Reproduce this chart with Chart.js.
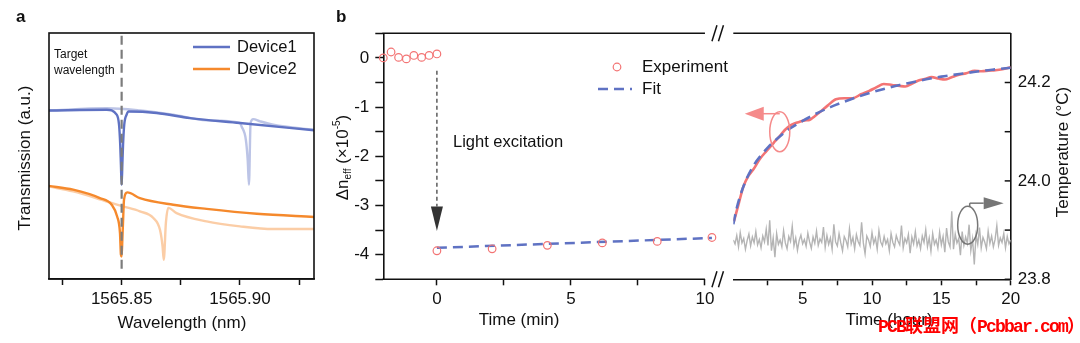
<!DOCTYPE html>
<html lang="en">
<head>
<meta charset="UTF-8">
<title>Transmission spectra and photo-induced index change</title>
<script src="https://cdn.jsdelivr.net/npm/chart.js@4.4.1/dist/chart.umd.min.js"></script>
<style>
  html, body { margin: 0; padding: 0; background: #fff; }
  #wrap { position: relative; width: 1080px; height: 343px; overflow: hidden; }
  #wrap canvas { position: absolute; top: 0; }
  #mark { position: absolute; left: 878px; top: 318px; color: #f00; white-space: nowrap;
          font: bold 18px/18px "Liberation Mono", "Noto Sans CJK SC", monospace; }
  #mark .l { letter-spacing: -1.8px; }
</style>
</head>
<body>
<div id="wrap">
  <canvas id="specChart" width="330" height="343" style="left:0px"></canvas>
  <canvas id="minChart" width="410" height="343" style="left:330px"></canvas>
  <canvas id="hourChart" width="360" height="343" style="left:720px"></canvas>
  <div id="mark"><span class="l">PCB</span>联盟网（<span class="l">Pcbbar.com</span>）</div>
</div>
<script>
// ---------- panel a: transmission spectra ----------
const targetWavelength = 1565.85;
const dev1Wl = [1565.819, 1565.8437, 1565.8479, 1565.8489, 1565.8494, 1565.8497, 1565.85, 1565.8503, 1565.8506, 1565.8511, 1565.8521, 1565.853, 1565.8648, 1565.8789, 1565.90, 1565.9317];
const dev1T  = [0.685, 0.688, 0.668, 0.627, 0.546, 0.465, 0.383, 0.465, 0.546, 0.627, 0.668, 0.681, 0.675, 0.654, 0.634, 0.604];
const dev1ShiftWl = [1565.819, 1565.8437, 1565.8577, 1565.8718, 1565.8859, 1565.90, 1565.9007, 1565.9025, 1565.9033, 1565.9038, 1565.9045, 1565.9056, 1565.9085, 1565.9141, 1565.9317];
const dev1ShiftT  = [0.685, 0.694, 0.685, 0.668, 0.645, 0.634, 0.620, 0.566, 0.480, 0.383, 0.634, 0.650, 0.641, 0.627, 0.606];
const dev2Wl = [1565.819, 1565.8295, 1565.8408, 1565.8458, 1565.8481, 1565.8493, 1565.8497, 1565.85, 1565.8503, 1565.8507, 1565.851, 1565.8524, 1565.8577, 1565.8718, 1565.8859, 1565.9071, 1565.9317];
const dev2T  = [0.379, 0.363, 0.329, 0.302, 0.254, 0.187, 0.099, 0.091, 0.160, 0.260, 0.322, 0.352, 0.329, 0.302, 0.285, 0.265, 0.252];
const dev2ShiftWl = [1565.819, 1565.8295, 1565.8437, 1565.8507, 1565.8577, 1565.8634, 1565.8662, 1565.8673, 1565.8678, 1565.8687, 1565.8697, 1565.8732, 1565.8859, 1565.90, 1565.9141, 1565.9317];
const dev2ShiftT  = [0.376, 0.356, 0.315, 0.295, 0.275, 0.248, 0.200, 0.133, 0.078, 0.228, 0.289, 0.268, 0.234, 0.214, 0.203, 0.203];
const wlTicks = [1565.825, 1565.85, 1565.875, 1565.90, 1565.925];
const wlTickLabels = ['', '1565.85', '', '1565.90', ''];

// ---------- panel b: index change ----------
const minTicks = [0, 2.5, 5, 7.5, 10];
const minTickLabels = ['0', '', '5', '', '10'];
const minAxisEnd = 10;
const hourTicks = [2.5, 5, 7.5, 10, 12.5, 15, 17.5, 20];
const hourTickLabels = ['', '5', '', '10', '', '15', '', '20'];
const neffTicks = [-4.5, -4, -3.5, -3, -2.5, -2, -1.5, -1, -0.5, 0, 0.5];
const neffTickLabels = ['', '-4', '', '-3', '', '-2', '', '-1', '', '0', ''];
const tempTicks = [23.8, 23.9, 24.0, 24.1, 24.2];
const tempTickLabels = ['23.8', '', '24.0', '', '24.2'];

// before and after excitation (minutes)
const preTime = [-2, -1.71, -1.43, -1.14, -0.86, -0.57, -0.29, 0];
const preNeff = [0, 0.12, 0.01, -0.02, 0.05, 0.01, 0.05, 0.08];
const postTime = [0, 2.06, 4.12, 6.17, 8.22, 10.26];
const postNeff = [-3.92, -3.88, -3.81, -3.76, -3.73, -3.65];
const fitMinTime = [0, 10.26];
const fitMinNeff = [-3.86, -3.66];

// recovery (hours)
const hourTime = [0.05, 0.4, 0.72, 1.05, 1.44, 1.9, 2.4, 2.9, 3.35, 3.7, 4.07, 4.45, 4.79, 5.15, 5.5, 5.85, 6.2, 6.8, 7.4, 8.0, 8.6, 9.2, 9.8, 10.3, 10.85, 11.45, 12.0, 12.4, 12.9, 13.35, 13.8, 14.3, 14.8, 15.26, 15.7, 16.2, 16.8, 17.4, 17.9, 18.4, 18.9, 19.4, 20.0];
const hourNeff = [-3.32, -2.95, -2.62, -2.42, -2.27, -2.06, -1.89, -1.73, -1.59, -1.47, -1.38, -1.33, -1.30, -1.27, -1.26, -1.19, -1.11, -0.97, -0.84, -0.82, -0.82, -0.74, -0.67, -0.60, -0.53, -0.55, -0.57, -0.58, -0.52, -0.46, -0.43, -0.39, -0.42, -0.44, -0.40, -0.35, -0.31, -0.26, -0.27, -0.26, -0.25, -0.23, -0.19];
const fitHourTime = [0, 0.25, 0.5, 0.75, 1, 1.5, 2, 2.5, 3, 3.5, 4, 5, 6, 7, 8, 9, 10, 11, 12, 13, 14, 15, 16, 17, 18, 19, 20];
const fitHourNeff = [-3.38, -3.05, -2.80, -2.60, -2.43, -2.17, -1.98, -1.82, -1.68, -1.56, -1.45, -1.28, -1.13, -1.00, -0.89, -0.79, -0.70, -0.62, -0.55, -0.49, -0.43, -0.38, -0.34, -0.30, -0.26, -0.23, -0.20];

// chip temperature, logged every 7.5 min
const tempStep = 0.125;
const temperature = [
  23.880, 23.872, 23.889, 23.866, 23.895, 23.874, 23.883, 23.861, 23.879, 23.892, 23.868, 23.886, 23.874, 23.897, 23.870, 23.881, 23.864, 23.888, 23.876, 23.902,
  23.869, 23.920, 23.858, 23.884, 23.845, 23.893, 23.871, 23.880, 23.866, 23.899, 23.874, 23.862, 23.887, 23.877, 23.908, 23.868, 23.884, 23.859, 23.879, 23.890,
  23.872, 23.881, 23.867, 23.894, 23.876, 23.863, 23.886, 23.873, 23.898, 23.869, 23.882, 23.875, 23.906, 23.865, 23.889, 23.871, 23.884, 23.861, 23.912, 23.876,
  23.868, 23.893, 23.874, 23.858, 23.887, 23.879, 23.866, 23.903, 23.872, 23.885, 23.862, 23.891, 23.877, 23.869, 23.916, 23.874, 23.852, 23.888, 23.880, 23.867,
  23.895, 23.873, 23.884, 23.861, 23.899, 23.876, 23.868, 23.887, 23.872, 23.881, 23.858, 23.893, 23.875, 23.866, 23.889, 23.878, 23.870, 23.909, 23.864, 23.883,
  23.874, 23.891, 23.853, 23.886, 23.872, 23.897, 23.868, 23.880, 23.862, 23.888, 23.875, 23.901, 23.866, 23.884, 23.857, 23.893, 23.871, 23.880, 23.863, 23.896,
  23.870, 23.887, 23.855, 23.904, 23.876, 23.866, 23.938, 23.861, 23.892, 23.874, 23.883, 23.849, 23.897, 23.869, 23.886, 23.873, 23.911, 23.858, 23.882, 23.830,
  23.890, 23.871, 23.905, 23.864, 23.885, 23.876, 23.862, 23.898, 23.873, 23.888, 23.866, 23.881, 23.909, 23.869, 23.884, 23.875, 23.893, 23.864, 23.887, 23.872, 23.880
];

const BLUE = '#5f72c3';
const BLUE_LIGHT = 'rgba(95,114,195,0.42)';
const ORANGE = '#f5892c';
const ORANGE_LIGHT = 'rgba(245,137,44,0.42)';
const RED = '#f37474';
const FONT = '"Liberation Sans", Arial, sans-serif';

Chart.defaults.font.family = FONT;
Chart.defaults.font.size = 17;
Chart.defaults.color = '#111';
Chart.defaults.animation = false;
Chart.defaults.plugins.legend.display = false;
Chart.defaults.plugins.tooltip.enabled = false;

function pts(xs, ys) { return xs.map((x, i) => ({ x: x, y: ys[i] })); }
function fixSize(px) { return s => { if (s.isHorizontal()) s.height = px; else s.width = px; }; }
function useTicks(values) { return s => { s.ticks = values.map(v => ({ value: v })); }; }
function labelsFrom(list) { return (v, i) => list[i]; }

function line(ctx, x1, y1, x2, y2) { ctx.beginPath(); ctx.moveTo(x1, y1); ctx.lineTo(x2, y2); ctx.stroke(); }
function label(ctx, str, x, y, size, align, bold) {
  ctx.font = (bold ? 'bold ' : '') + size + 'px ' + FONT;
  ctx.textAlign = align || 'left';
  ctx.textBaseline = 'middle';
  ctx.fillText(str, x, y);
}
function vlabel(ctx, str, x, y, size) {
  ctx.save(); ctx.translate(x, y); ctx.rotate(-Math.PI / 2);
  label(ctx, str, 0, 0, size, 'center'); ctx.restore();
}
function slashes(ctx, x, y) {
  line(ctx, x, y + 8, x + 5, y - 8);
  line(ctx, x + 6.5, y + 8, x + 11.5, y - 8);
}
function arrowHead(ctx, tipX, tipY, dirX, dirY, len, half) {
  const bx = tipX - dirX * len, by = tipY - dirY * len;
  ctx.beginPath(); ctx.moveTo(tipX, tipY);
  ctx.lineTo(bx - dirY * half, by + dirX * half);
  ctx.lineTo(bx + dirY * half, by - dirX * half);
  ctx.closePath(); ctx.fill();
}

const bottomGrid = { display: true, drawOnChartArea: false, drawTicks: true, tickLength: 6, tickColor: '#111', tickWidth: 1.5 };
const axisBorder = { display: true, color: '#111', width: 1.6 };

// ---------- chart a ----------
const specDeco = {
  id: 'specDeco',
  afterDraw(chart) {
    const { ctx, chartArea: a } = chart;
    ctx.save();
    ctx.strokeStyle = '#111'; ctx.lineWidth = 1.6;
    ctx.strokeRect(a.left, a.top, a.right - a.left, a.bottom - a.top);
    ctx.fillStyle = '#111';
    label(ctx, 'a', 16, 17, 17, 'left', true);
    label(ctx, 'Target', 54, 55, 12);
    label(ctx, 'wavelength', 54, 71, 12);
    ctx.lineWidth = 2.5;
    ctx.strokeStyle = BLUE; line(ctx, 193, 47, 230, 47);
    ctx.strokeStyle = ORANGE; line(ctx, 193, 69, 230, 69);
    label(ctx, 'Device1', 237, 47, 16.5);
    label(ctx, 'Device2', 237, 69, 16.5);
    label(ctx, 'Wavelength (nm)', 182, 323, 17, 'center');
    vlabel(ctx, 'Transmission (a.u.)', 25, 158, 17);
    ctx.restore();
  }
};

const specLine = (data, color, order) => ({
  data: data, showLine: true, pointRadius: 0, borderColor: color, borderWidth: 2.4,
  cubicInterpolationMode: 'monotone', order: order
});

new Chart(document.getElementById('specChart'), {
  type: 'scatter',
  data: {
    datasets: [
      { data: [{ x: targetWavelength, y: 0.042 }, { x: targetWavelength, y: 1 }], showLine: true, pointRadius: 0,
        borderColor: '#7c7c7c', borderWidth: 2.2, borderDash: [9, 5], order: 0 },
      specLine(pts(dev1Wl, dev1T), BLUE, 1),
      specLine(pts(dev2Wl, dev2T), ORANGE, 1),
      specLine(pts(dev1ShiftWl, dev1ShiftT), BLUE_LIGHT, 2),
      specLine(pts(dev2ShiftWl, dev2ShiftT), ORANGE_LIGHT, 2)
    ]
  },
  options: {
    responsive: false,
    layout: { padding: { top: 33, right: 16, left: 0, bottom: 0 } },
    scales: {
      x: { type: 'linear', min: 1565.8193, max: 1565.9313, afterFit: fixSize(64), afterBuildTicks: useTicks(wlTicks),
           ticks: { callback: labelsFrom(wlTickLabels), autoSkip: false, maxRotation: 0, padding: 4, color: '#111' },
           grid: bottomGrid, border: axisBorder },
      y: { min: 0, max: 1, afterFit: fixSize(49), ticks: { display: false },
           grid: { display: false }, border: { display: false } }
    }
  },
  plugins: [specDeco]
});

// ---------- chart b, minutes ----------
// the scale runs a little past 10 min so the last reading is kept; the axis lines stop at 10
const minDeco = {
  id: 'minDeco',
  afterDraw(chart) {
    const { ctx, chartArea: a, scales } = chart;
    const x = scales.x, y = scales.y;
    const xEnd = x.getPixelForValue(minAxisEnd);
    ctx.save();
    ctx.strokeStyle = '#111'; ctx.fillStyle = '#111'; ctx.lineWidth = 1.6;
    line(ctx, a.left - 0.8, a.top, xEnd, a.top);
    line(ctx, a.left - 0.8, a.bottom, xEnd, a.bottom);
    ctx.lineWidth = 1.5;
    slashes(ctx, xEnd + 7, a.top);
    slashes(ctx, xEnd + 7, a.bottom);
    label(ctx, 'b', 6, 17, 17, 'left', true);

    // excitation arrow
    const ax = x.getPixelForValue(0);
    const yStart = y.getPixelForValue(-0.26), yHead = y.getPixelForValue(-3.02), yTip = y.getPixelForValue(-3.52);
    ctx.strokeStyle = '#333'; ctx.fillStyle = '#333'; ctx.lineWidth = 1.2;
    ctx.setLineDash([4, 3]); line(ctx, ax, yStart, ax, yHead); ctx.setLineDash([]);
    arrowHead(ctx, ax, yTip, 0, 1, yTip - yHead, 6);
    ctx.fillStyle = '#111';
    label(ctx, 'Light excitation', 123, 142, 16.5);

    // legend
    ctx.strokeStyle = RED; ctx.lineWidth = 1.2;
    ctx.beginPath(); ctx.arc(287, 67, 3.8, 0, Math.PI * 2); ctx.stroke();
    ctx.strokeStyle = BLUE; ctx.lineWidth = 2.5; ctx.setLineDash([10, 6]);
    line(ctx, 268, 89, 302, 89); ctx.setLineDash([]);
    label(ctx, 'Experiment', 312, 67, 17);
    label(ctx, 'Fit', 312, 89, 17);

    label(ctx, 'Time (min)', 189, 320, 17, 'center');

    // y title with sub/superscripts
    ctx.save();
    ctx.translate(11.5, 157.5); ctx.rotate(-Math.PI / 2);
    const parts = [['\u0394n', 17, 6], ['eff', 10, 9], [' (\u00d710', 17, 6], ['-5', 10, -2], [')', 17, 6]];
    let total = 0;
    parts.forEach(p => { ctx.font = p[1] + 'px ' + FONT; total += ctx.measureText(p[0]).width; });
    let cx = -total / 2;
    ctx.textAlign = 'left'; ctx.textBaseline = 'alphabetic';
    parts.forEach(p => { ctx.font = p[1] + 'px ' + FONT; ctx.fillText(p[0], cx, p[2]); cx += ctx.measureText(p[0]).width; });
    ctx.restore();
    ctx.restore();
  }
};

const leftGrid = Object.assign({}, bottomGrid, { tickLength: 8 });

new Chart(document.getElementById('minChart'), {
  type: 'scatter',
  data: {
    datasets: [
      { data: pts(preTime, preNeff), pointRadius: 3.8, borderColor: RED, borderWidth: 1.2,
        backgroundColor: 'rgba(255,255,255,0)', clip: false, order: 0 },
      { data: pts(postTime, postNeff), pointRadius: 3.8, borderColor: RED, borderWidth: 1.2,
        backgroundColor: 'rgba(255,255,255,0)', clip: false, order: 0 },
      { data: pts(fitMinTime, fitMinNeff), showLine: true, pointRadius: 0, borderColor: BLUE, borderWidth: 2.5,
        borderDash: [10, 6], clip: false, order: 1 }
    ]
  },
  options: {
    responsive: false,
    layout: { padding: { top: 33.3, right: 27, left: 0, bottom: 0 } },
    scales: {
      x: { type: 'linear', min: -2, max: 10.3, afterFit: fixSize(63.7), afterBuildTicks: useTicks(minTicks),
           ticks: { callback: labelsFrom(minTickLabels), autoSkip: false, maxRotation: 0, padding: 4, color: '#111' },
           grid: bottomGrid, border: { display: false } },
      y: { min: -4.5, max: 0.5, afterFit: fixSize(53.3), afterBuildTicks: useTicks(neffTicks),
           ticks: { callback: labelsFrom(neffTickLabels), autoSkip: false, padding: 6, color: '#111' },
           grid: leftGrid, border: axisBorder }
    }
  },
  plugins: [minDeco]
});

// ---------- chart b, hours ----------
const hourDeco = {
  id: 'hourDeco',
  afterDraw(chart) {
    const { ctx, chartArea: a, scales } = chart;
    const x = scales.x, y = scales.y, t = scales.y2;
    ctx.save();
    ctx.strokeStyle = '#111'; ctx.lineWidth = 1.6;
    line(ctx, a.left, a.top, a.right, a.top);
    ctx.lineWidth = 1.5;
    tempTicks.forEach(v => { const py = t.getPixelForValue(v); line(ctx, a.right - 6, py, a.right, py); });

    // left-axis marker for the index curve
    const rx = x.getPixelForValue(3.35), ry = y.getPixelForValue(-1.5);
    ctx.strokeStyle = '#f58a8a'; ctx.fillStyle = '#f58a8a'; ctx.lineWidth = 1.5;
    ctx.beginPath(); ctx.ellipse(rx, ry, 10, 20, 0, 0, Math.PI * 2); ctx.stroke();
    line(ctx, rx, ry - 18, rx - 17, ry - 18);
    arrowHead(ctx, rx - 35, ry - 18, -1, 0, 19, 7);

    // right-axis marker for the temperature trace
    const gx = x.getPixelForValue(16.9), gy = t.getPixelForValue(23.91);
    ctx.strokeStyle = '#767676'; ctx.fillStyle = '#767676';
    ctx.beginPath(); ctx.ellipse(gx, gy, 10, 19, 0, 0, Math.PI * 2); ctx.stroke();
    line(ctx, gx + 2, gy - 18, gx + 2, gy - 22);
    line(ctx, gx + 2, gy - 22, gx + 16, gy - 22);
    arrowHead(ctx, gx + 36, gy - 22, 1, 0, 20, 6);

    ctx.fillStyle = '#111';
    label(ctx, 'Time (hour)', 169, 320, 17, 'center');
    vlabel(ctx, 'Temperature (\u00b0C)', 343, 152, 17);
    ctx.restore();
  }
};

new Chart(document.getElementById('hourChart'), {
  type: 'scatter',
  data: {
    datasets: [
      { data: pts(fitHourTime, fitHourNeff), showLine: true, pointRadius: 0, borderColor: BLUE, borderWidth: 2.6,
        borderDash: [10, 6], cubicInterpolationMode: 'monotone', yAxisID: 'y', order: 0 },
      { data: pts(hourTime, hourNeff), showLine: true, pointRadius: 0, borderColor: RED, borderWidth: 2.6,
        cubicInterpolationMode: 'monotone', yAxisID: 'y', order: 1 },
      { data: temperature.map((v, i) => ({ x: i * tempStep, y: v })), showLine: true, pointRadius: 0,
        borderColor: '#b4b4b4', borderWidth: 1.4, yAxisID: 'y2', order: 2 }
    ]
  },
  options: {
    responsive: false,
    layout: { padding: { top: 33.3, right: 0, left: 13.3, bottom: 0 } },
    scales: {
      x: { type: 'linear', min: 0, max: 20, afterFit: fixSize(63.7), afterBuildTicks: useTicks(hourTicks),
           ticks: { callback: labelsFrom(hourTickLabels), autoSkip: false, maxRotation: 0, padding: 4, color: '#111' },
           grid: bottomGrid, border: axisBorder },
      y: { display: false, min: -4.5, max: 0.5 },
      y2: { position: 'right', min: 23.8, max: 24.3, afterFit: fixSize(69.3), afterBuildTicks: useTicks(tempTicks),
            ticks: { callback: labelsFrom(tempTickLabels), autoSkip: false, padding: 7, color: '#111' },
            grid: { display: true, drawOnChartArea: false, drawTicks: false }, border: axisBorder }
    }
  },
  plugins: [hourDeco]
});
</script>
</body>
</html>
